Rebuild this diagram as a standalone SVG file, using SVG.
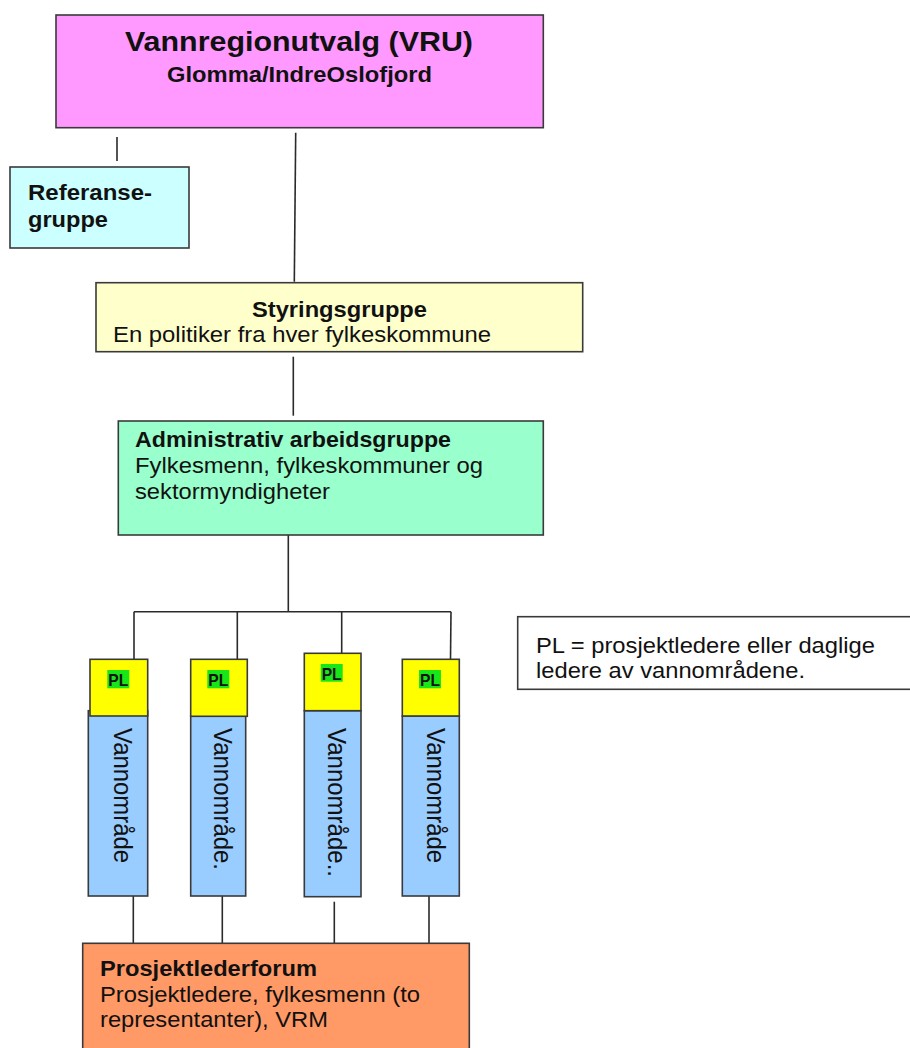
<svg xmlns="http://www.w3.org/2000/svg" width="910" height="1048" viewBox="0 0 910 1048">
<style>
text{font-family:"Liberation Sans",Arial,sans-serif;fill:#111}
.b{font-weight:bold}
.box{stroke:#3a3a3a;stroke-width:1.6}
.ln{stroke:#2a2a2a;stroke-width:1.6;fill:none}
.pl{fill:#ffff00}
.wa{fill:#99ccff}
.hl{fill:#19e619}
</style>
<rect width="910" height="1048" fill="#ffffff"/>
<g id="connectors">
<line class="ln" x1="117" y1="137" x2="117" y2="161"/>
<line class="ln" x1="295.7" y1="132.7" x2="294.3" y2="281.7"/>
<line class="ln" x1="293.3" y1="356.7" x2="293.3" y2="415.7"/>
<line class="ln" x1="288.3" y1="535" x2="288.3" y2="611.7"/>
<line class="ln" x1="134" y1="611.7" x2="451" y2="611.7"/>
<line class="ln" x1="134" y1="611.7" x2="134" y2="659"/>
<line class="ln" x1="237.3" y1="611.7" x2="237.3" y2="659"/>
<line class="ln" x1="341.7" y1="611.7" x2="341.7" y2="653"/>
<line class="ln" x1="451" y1="611.7" x2="450.5" y2="659"/>
<line class="ln" x1="133.3" y1="892" x2="133.3" y2="943.3"/>
<line class="ln" x1="222.3" y1="896" x2="222.3" y2="943.3"/>
<line class="ln" x1="334.3" y1="901.7" x2="334.3" y2="943.3"/>
<line class="ln" x1="429" y1="896" x2="429" y2="943.3"/>
</g>
<g id="vru">
<rect class="box" x="56" y="15" width="487.3" height="112.7" fill="#ff99ff" stroke="#4a3a4a"/>
<text class="b" x="125" y="51" font-size="28.5" textLength="348" lengthAdjust="spacingAndGlyphs">Vannregionutvalg (VRU)</text>
<text class="b" x="167" y="82" font-size="22" textLength="265" lengthAdjust="spacingAndGlyphs">Glomma/IndreOslofjord</text>
</g>
<g id="referanse">
<rect class="box" x="10" y="167" width="179" height="81" fill="#ccffff"/>
<text class="b" x="28" y="200" font-size="22.5" textLength="124" lengthAdjust="spacingAndGlyphs">Referanse-</text>
<text class="b" x="28" y="227" font-size="22.5" textLength="80" lengthAdjust="spacingAndGlyphs">gruppe</text>
</g>
<g id="styring">
<rect class="box" x="96" y="282.7" width="486.7" height="69" fill="#ffffcc"/>
<text class="b" x="252" y="317" font-size="22.5" textLength="175" lengthAdjust="spacingAndGlyphs">Styringsgruppe</text>
<text x="113" y="342" font-size="22.5" textLength="378" lengthAdjust="spacingAndGlyphs">En politiker fra hver fylkeskommune</text>
</g>
<g id="admin">
<rect class="box" x="118.3" y="421" width="425" height="114" fill="#99ffcc"/>
<text class="b" x="135" y="446.5" font-size="22.5" textLength="316" lengthAdjust="spacingAndGlyphs">Administrativ arbeidsgruppe</text>
<text x="135" y="473" font-size="22.5" textLength="348" lengthAdjust="spacingAndGlyphs">Fylkesmenn, fylkeskommuner og</text>
<text x="135" y="499" font-size="22.5" textLength="195" lengthAdjust="spacingAndGlyphs">sektormyndigheter</text>
</g>
<g id="vo1">
<rect class="box wa" x="88.3" y="710.7" width="59.4" height="185.3"/>
<rect class="box pl" x="90" y="659.3" width="57.7" height="56.7"/>
<rect class="hl" x="107.3" y="670" width="22" height="18.3"/>
<text class="b" x="118.3" y="685.5" font-size="17" text-anchor="middle" textLength="20" lengthAdjust="spacingAndGlyphs">PL</text>
<text transform="translate(114.3,728) rotate(90)" font-size="26" textLength="135" lengthAdjust="spacingAndGlyphs">Vannområde</text>
</g>
<g id="vo2">
<rect class="box wa" x="190.7" y="716" width="55" height="180"/>
<rect class="box pl" x="190.7" y="659.3" width="56.6" height="57"/>
<rect class="hl" x="207.3" y="670" width="22" height="18.3"/>
<text class="b" x="218.3" y="685.5" font-size="17" text-anchor="middle" textLength="20" lengthAdjust="spacingAndGlyphs">PL</text>
<text transform="translate(214,728) rotate(90)" font-size="26" textLength="142" lengthAdjust="spacingAndGlyphs">Vannområde.</text>
</g>
<g id="vo3">
<rect class="box wa" x="304.3" y="710.7" width="56.7" height="186"/>
<rect class="box pl" x="304.3" y="653.3" width="56.7" height="57.4"/>
<rect class="hl" x="320.7" y="664" width="22" height="17.7"/>
<text class="b" x="331.7" y="679.5" font-size="17" text-anchor="middle" textLength="20" lengthAdjust="spacingAndGlyphs">PL</text>
<text transform="translate(328.3,728) rotate(90)" font-size="26" textLength="149" lengthAdjust="spacingAndGlyphs">Vannområde..</text>
</g>
<g id="vo4">
<rect class="box wa" x="402.3" y="716" width="57" height="180"/>
<rect class="box pl" x="402.3" y="659.3" width="57" height="56.7"/>
<rect class="hl" x="419" y="670" width="22" height="18.3"/>
<text class="b" x="430" y="685.5" font-size="17" text-anchor="middle" textLength="20" lengthAdjust="spacingAndGlyphs">PL</text>
<text transform="translate(426.7,728) rotate(90)" font-size="26" textLength="135" lengthAdjust="spacingAndGlyphs">Vannområde</text>
</g>
<g id="legend">
<rect class="box" x="517.7" y="616.7" width="400" height="72.6" fill="#ffffff"/>
<text x="536" y="653" font-size="22.5" textLength="339" lengthAdjust="spacingAndGlyphs">PL = prosjektledere eller daglige</text>
<text x="536" y="678.3" font-size="22.5" textLength="269" lengthAdjust="spacingAndGlyphs">ledere av vannområdene.</text>
</g>
<g id="forum">
<rect class="box" x="82.7" y="943.3" width="386.6" height="110" fill="#ff9966"/>
<text class="b" x="100" y="976" font-size="22.5" textLength="217" lengthAdjust="spacingAndGlyphs">Prosjektlederforum</text>
<text x="100" y="1001.5" font-size="22.5" textLength="320" lengthAdjust="spacingAndGlyphs">Prosjektledere, fylkesmenn (to</text>
<text x="100" y="1027" font-size="22.5" textLength="228" lengthAdjust="spacingAndGlyphs">representanter), VRM</text>
</g>
</svg>
